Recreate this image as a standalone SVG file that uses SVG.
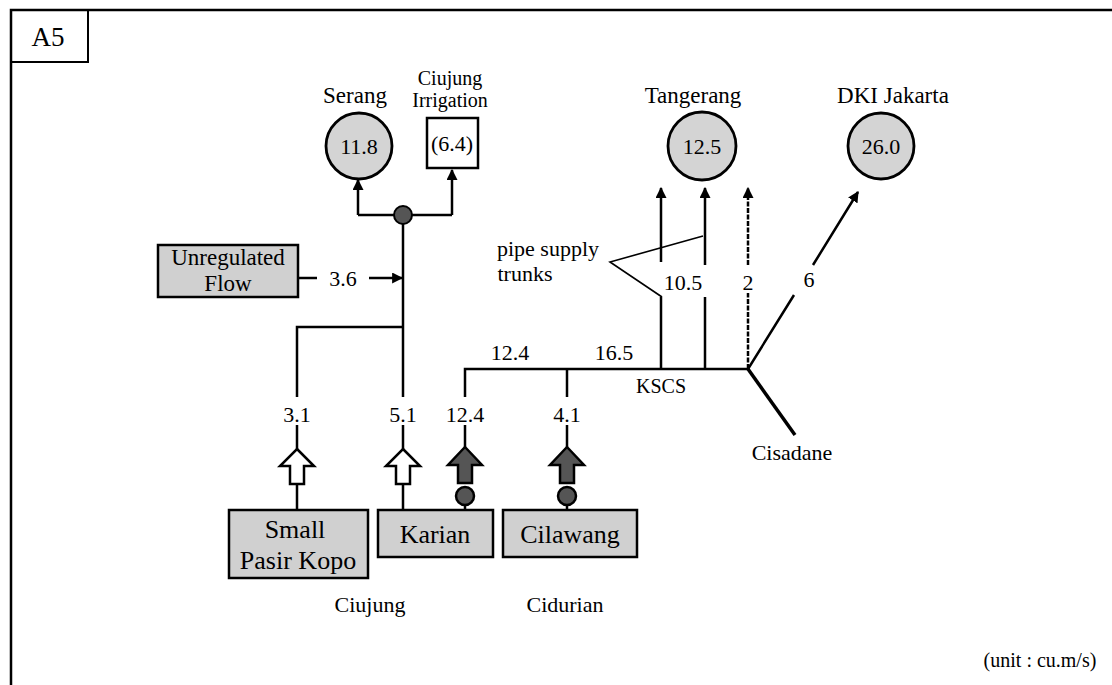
<svg xmlns="http://www.w3.org/2000/svg" width="1112" height="685" viewBox="0 0 1112 685">
<defs>
<style>
text{font-family:"Liberation Serif","Times New Roman",serif;fill:#000;text-anchor:middle}
.ln{stroke:#000;stroke-width:2.5;fill:none}
.thin{stroke:#000;stroke-width:1.6;fill:none}
.box{fill:#d0d0d0;stroke:#000;stroke-width:2.5}
.circ{fill:#d4d4d4;stroke:#000;stroke-width:2.8}
.hollow{fill:#fff;stroke:#000;stroke-width:2.5}
.dark{fill:#555;stroke:#000;stroke-width:2.5}
.hd{font-size:23px}
.lb{font-size:22px}
.bx{font-size:26px}
</style>
<marker id="ah" viewBox="0 0 10 10" refX="9" refY="5" markerWidth="11" markerHeight="11" markerUnits="userSpaceOnUse" orient="auto">
<path d="M0,0 L10,5 L0,10 z" fill="#000"/>
</marker>
</defs>
<rect width="1112" height="685" fill="#fff"/>
<g id="frame">
<path class="ln" d="M11,685 V10 H1112"/>
<rect x="11" y="10" width="77" height="52" fill="none" stroke="#000" stroke-width="2"/>
<text x="48" y="46" style="font-size:27px">A5</text>
</g>
<g id="connectors">
<path class="ln" d="M358,215 H452"/>
<path class="ln" d="M358,215 V180" marker-end="url(#ah)"/>
<path class="ln" d="M452,215 V170" marker-end="url(#ah)"/>
<path class="ln" d="M403,215 V397"/>
<path class="ln" d="M298,278 H317"/>
<path class="ln" d="M369,278 H402" marker-end="url(#ah)"/>
<path class="ln" d="M403,327 H297 V397"/>
<path class="ln" d="M465,397 V369 H748"/>
<path class="ln" d="M567,369 V397"/>
<path class="ln" d="M661,369 V297 M661,262 V188" marker-end="url(#ah)"/>
<path class="ln" d="M705,369 V297 M705,265 V188" marker-end="url(#ah)"/>
<path class="ln" d="M748,369 V293 M748,265 V188" stroke-dasharray="5 1.5" marker-end="url(#ah)"/>
<path class="ln" d="M748,369 L794,295 M813,265 L858,192" marker-end="url(#ah)"/>
<path d="M748,369 L795,435" stroke="#000" stroke-width="3.5" fill="none"/>
<path class="thin" d="M703,236 L610,262 L662,297"/>
<path class="ln" d="M297,425 V449 M297,484 V510"/>
<path class="ln" d="M403,425 V449 M403,484 V510"/>
<path class="ln" d="M465,425 V447 M465,506 V510"/>
<path class="ln" d="M567,425 V447 M567,506 V510"/>
</g>
<g id="junction">
<circle cx="403" cy="215" r="9" fill="#555" stroke="#000" stroke-width="2"/>
</g>
<g id="serang">
<text x="355" y="103" class="hd">Serang</text>
<circle cx="359" cy="146" r="33" class="circ"/>
<text x="359" y="154" class="lb">11.8</text>
</g>
<g id="irrigation">
<text x="450" y="85" style="font-size:20px">Ciujung</text>
<text x="450" y="107" style="font-size:20px">Irrigation</text>
<rect x="427" y="118" width="51" height="50" fill="#fff" stroke="#000" stroke-width="2.5"/>
<text x="452" y="151" class="lb">(6.4)</text>
</g>
<g id="tangerang">
<text x="693" y="103" class="hd">Tangerang</text>
<circle cx="702" cy="146" r="34" class="circ"/>
<text x="702" y="154" class="lb">12.5</text>
</g>
<g id="dki">
<text x="893" y="103" class="hd">DKI Jakarta</text>
<circle cx="881" cy="146" r="33" class="circ"/>
<text x="881" y="154" class="lb">26.0</text>
</g>
<g id="unregulated">
<rect x="158" y="245" width="140" height="52" class="box"/>
<text x="228" y="265" style="font-size:23px">Unregulated</text>
<text x="228" y="291" style="font-size:23px">Flow</text>
</g>
<g id="labels">
<text x="343" y="286" class="lb">3.6</text>
<text x="297" y="422" class="lb">3.1</text>
<text x="403" y="422" class="lb">5.1</text>
<text x="465" y="422" class="lb">12.4</text>
<text x="567" y="422" class="lb">4.1</text>
<text x="510" y="360" class="lb">12.4</text>
<text x="614" y="360" class="lb">16.5</text>
<text x="661" y="393" style="font-size:20px">KSCS</text>
<text x="548" y="256" class="lb">pipe supply</text>
<text x="525" y="281" class="lb">trunks</text>
<text x="683" y="290" class="lb">10.5</text>
<text x="748" y="290" class="lb">2</text>
<text x="809" y="287" class="lb">6</text>
<text x="792" y="460" class="lb">Cisadane</text>
<text x="370" y="612" class="lb">Ciujung</text>
<text x="565" y="612" class="lb">Cidurian</text>
<text x="1040" y="667" style="font-size:20px">(unit : cu.m/s)</text>
</g>
<g id="arrows">
<path class="hollow" d="M297,449 L314,466 L304,466 L304,484 L290,484 L290,466 L280,466 Z"/>
<path class="hollow" d="M403,449 L420,466 L410,466 L410,484 L396,484 L396,466 L386,466 Z"/>
<path class="dark" d="M465,447 L482,465 L472,465 L472,483 L458,483 L458,465 L448,465 Z"/>
<path class="dark" d="M567,447 L584,465 L574,465 L574,483 L560,483 L560,465 L550,465 Z"/>
<circle cx="465" cy="496" r="9" class="dark"/>
<circle cx="567" cy="496" r="9" class="dark"/>
</g>
<g id="small_pasir_kopo">
<rect x="229" y="510" width="139" height="68" class="box"/>
<text x="295" y="538" class="bx">Small</text>
<text x="298" y="569" class="bx">Pasir Kopo</text>
</g>
<g id="karian">
<rect x="378" y="510" width="115" height="47" class="box"/>
<text x="435" y="543" class="bx">Karian</text>
</g>
<g id="cilawang">
<rect x="503" y="510" width="134" height="47" class="box"/>
<text x="570" y="543" class="bx">Cilawang</text>
</g>
</svg>
